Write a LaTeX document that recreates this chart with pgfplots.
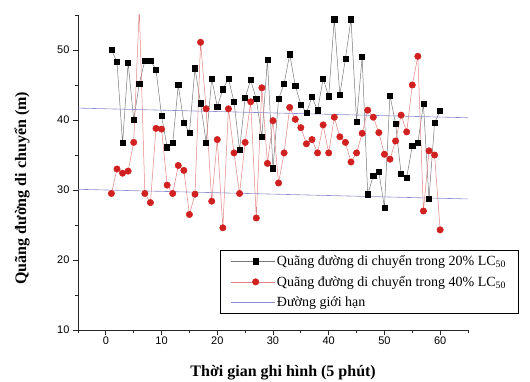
\documentclass[border=0pt]{standalone}
\usepackage{fontspec}
\setmainfont{Liberation Serif}
\newfontfamily\arialf{Liberation Sans}
\usepackage{pgfplots}
\pgfplotsset{compat=1.18}
\definecolor{redpt}{RGB}{208,32,32}
\definecolor{redln}{RGB}{226,130,130}
\definecolor{limln}{RGB}{140,140,205}
\definecolor{blkln}{RGB}{120,120,120}
\begin{document}
\begin{tikzpicture}
\begin{axis}[name=ax, at={(0,0)}, anchor=south west,
 scale only axis, width=390pt, height=315pt,
 xmin=-5, xmax=65, ymin=10, ymax=55,
 axis x line*=bottom, axis y line*=left,
 axis line style={line width=0.9pt, black!85},
 xtick={0,10,...,60}, ytick={10,20,...,50},
 minor xtick={-5,5,...,65}, minor ytick={15,25,...,55},
 tick align=outside, major tick length=5pt, minor tick length=3pt,
 tick style={line width=0.8pt, black!85},
 /pgf/number format/assume math mode=true,
 tick label style={font=\arialf\fontsize{11}{11}\selectfont},
 xticklabel style={yshift=1.5pt},
 xlabel={Thời gian ghi hình (5 phút)},
 ylabel={Quãng đường di chuyển (m)},
 label style={font=\bfseries\fontsize{16}{16}\selectfont},
 x label style={at={(axis description cs:0.526,-0.136)}, anchor=center},
 y label style={at={(axis description cs:-0.1436,0.45)}, anchor=center},
 legend cell align=left,
 legend style={at={(rel axis cs:0.364,0.254)}, anchor=north west, font=\fontsize{14}{16}\selectfont, draw=black, line width=0.8pt, inner xsep=10pt, inner ysep=3pt, row sep=5pt},
 legend image code/.code={\path (0pt,0pt) -- (44pt,0pt); \draw[mark repeat=2,mark phase=2,#1] plot coordinates {(10pt,0pt) (25pt,0pt) (40pt,0pt)};},
]
\addplot[color=blkln, line width=0.5pt, mark=square*, mark size=2.6pt, mark options={fill=black, draw=black, solid}] coordinates {
(1,50.0) (2,48.3) (3,36.7) (4,48.2) (5,40.0) (6,45.2) (7,48.5) (8,48.5) (9,47.2) (10,40.6)
(11,36.1) (12,36.7) (13,45.0) (14,39.6) (15,38.2) (16,47.4) (17,42.4) (18,36.8) (19,45.9) (20,41.9)
(21,44.4) (22,45.9) (23,42.6) (24,35.7) (25,43.2) (26,45.7) (27,43.0) (28,37.6) (29,48.6) (30,33.1)
(31,43.0) (32,45.2) (33,49.4) (34,44.9) (35,42.2) (36,41.0) (37,43.3) (38,41.4) (39,45.9) (40,43.4)
(41,54.4) (42,43.6) (43,48.8) (44,54.4) (45,39.8) (46,49.0) (47,29.4) (48,32.0) (49,32.6) (50,27.5)
(51,43.5) (52,39.5) (53,32.3) (54,31.8) (55,36.3) (56,36.7) (57,42.3) (58,28.7) (59,39.6) (60,41.3)
};
\addlegendentry{Quãng đường di chuyển trong 20\% LC\textsubscript{50}}
\addplot[color=redln, line width=0.5pt, mark=*, mark size=3.2pt, mark options={fill=redpt, draw=redpt, solid}] coordinates {
(1,29.5) (2,33.0) (3,32.4) (4,32.7) (5,36.8) (6,56.0) (7,29.5) (8,28.2) (9,38.8) (10,38.7)
(11,30.7) (12,29.5) (13,33.5) (14,32.8) (15,26.5) (16,29.4) (17,51.1) (18,41.6) (19,28.4) (20,37.2)
(21,24.6) (22,41.6) (23,35.3) (24,29.5) (25,36.8) (26,42.6) (27,26.0) (28,44.6) (29,33.8) (30,39.9)
(31,31.0) (32,35.3) (33,41.8) (34,40.1) (35,38.9) (36,36.6) (37,37.2) (38,35.3) (39,39.3) (40,35.3)
(41,40.4) (42,37.6) (43,36.8) (44,34.0) (45,35.3) (46,38.1) (47,41.4) (48,40.4) (49,38.2) (50,35.1)
(51,34.4) (52,37.0) (53,40.7) (54,38.3) (55,45.0) (56,49.1) (57,27.0) (58,35.6) (59,35.0) (60,24.3)
};
\addlegendentry{Quãng đường di chuyển trong 40\% LC\textsubscript{50}}
\addplot[color=limln, line width=0.6pt, no marks] coordinates {(-5,41.7) (66,40.3)};
\addlegendentry{Đường giới hạn}
\addplot[color=limln, line width=0.6pt, no marks, forget plot] coordinates {(-5,30.1) (66,28.7)};
\end{axis}
\pgfresetboundingbox
\path[use as bounding box] (-78pt,-52pt) rectangle (452pt,330pt);
\end{tikzpicture}
\end{document}
